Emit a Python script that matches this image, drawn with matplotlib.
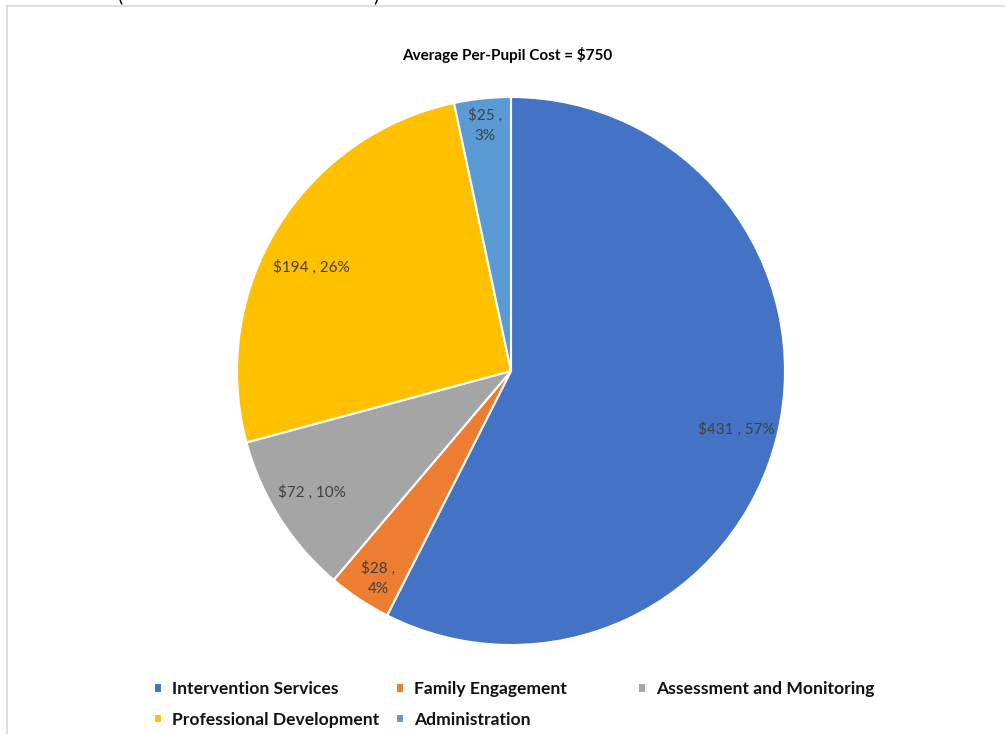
import numpy as np
import matplotlib
matplotlib.use("Agg")
import matplotlib.pyplot as plt
from matplotlib.lines import Line2D

categories = ["Intervention Services", "Family Engagement", "Assessment and Monitoring",
              "Professional Development", "Administration"]
costs = [431, 28, 72, 194, 25]
colors = ["#4472C4", "#ED7D31", "#A5A5A5", "#FFC000", "#5B9BD5"]
title = "Average Per-Pupil Cost = $750"

plt.rcParams["font.family"] = ["Lato", "DejaVu Sans"]

W, H = 1005, 734
fig = plt.figure(figsize=(W / 100, H / 100), dpi=100)

# pie axes: centre (511, 371) px, radius 274 px
cx, cy, r = 511, 371, 274
ax = fig.add_axes([(cx - r) / W, (H - cy - r) / H, 2 * r / W, 2 * r / H])
wedges, _ = ax.pie(costs, colors=colors, startangle=90, counterclock=False,
                   wedgeprops=dict(edgecolor="white", linewidth=1.5))
ax.set_xlim(-1, 1)
ax.set_ylim(-1, 1)
ax.set_aspect("equal")
ax.axis("off")

total = sum(costs)
# label distance (fraction of radius) and small angle nudge, excel best-fit style
label_r = [0.85, 0.9, 0.85, 0.82, 0.9]
label_nudge = [-1, 1, -1, 4, 0]
for w, v, lr, dn in zip(wedges, costs, label_r, label_nudge):
    pct = round(v / total * 100)
    if pct < 5:
        txt = f"${v} ,\n{pct}%"
    else:
        txt = f"${v} , {pct}%"
    ang = np.deg2rad((w.theta1 + w.theta2) / 2 + dn)
    ax.text(lr * np.cos(ang), lr * np.sin(ang), txt, ha="center", va="center",
            fontsize=11, color="#404040", linespacing=1.55)

fig.text(507 / W, 1 - 55 / H, title, ha="center", va="center",
         fontsize=11, fontweight="bold", color="black")

# legend laid out row by row like the original, one legend per column
col_x = [154, 396, 638]
cols = [[0, 3], [1, 4], [2]]
for x, idx in zip(col_x, cols):
    leg = fig.legend([wedges[i] for i in idx], [categories[i] for i in idx],
                     loc="upper left", bbox_to_anchor=(x / W, 1 - 681 / H),
                     frameon=False, ncol=1, fontsize=12.6,
                     handlelength=0.46, handleheight=0.46, handletextpad=0.55,
                     labelspacing=0.85, borderpad=0, borderaxespad=0)
    for t in leg.get_texts():
        t.set_fontweight("bold")
        t.set_color("#111111")

# chart frame (top and left edges visible)
fig.add_artist(Line2D([7 / W, 1004 / W], [1 - 5.5 / H, 1 - 5.5 / H], color="#d9d9d9", linewidth=1.2))
fig.add_artist(Line2D([7 / W, 7 / W], [0, 1 - 5.5 / H], color="#d9d9d9", linewidth=1.2))

# cut-off brackets from the text above the chart
fig.text(120 / W, 1 - 4 / H, "(", ha="center", va="bottom", fontsize=14)
fig.text(376 / W, 1 - 4 / H, ")", ha="center", va="bottom", fontsize=14)

fig.savefig("out.png", dpi=100)
